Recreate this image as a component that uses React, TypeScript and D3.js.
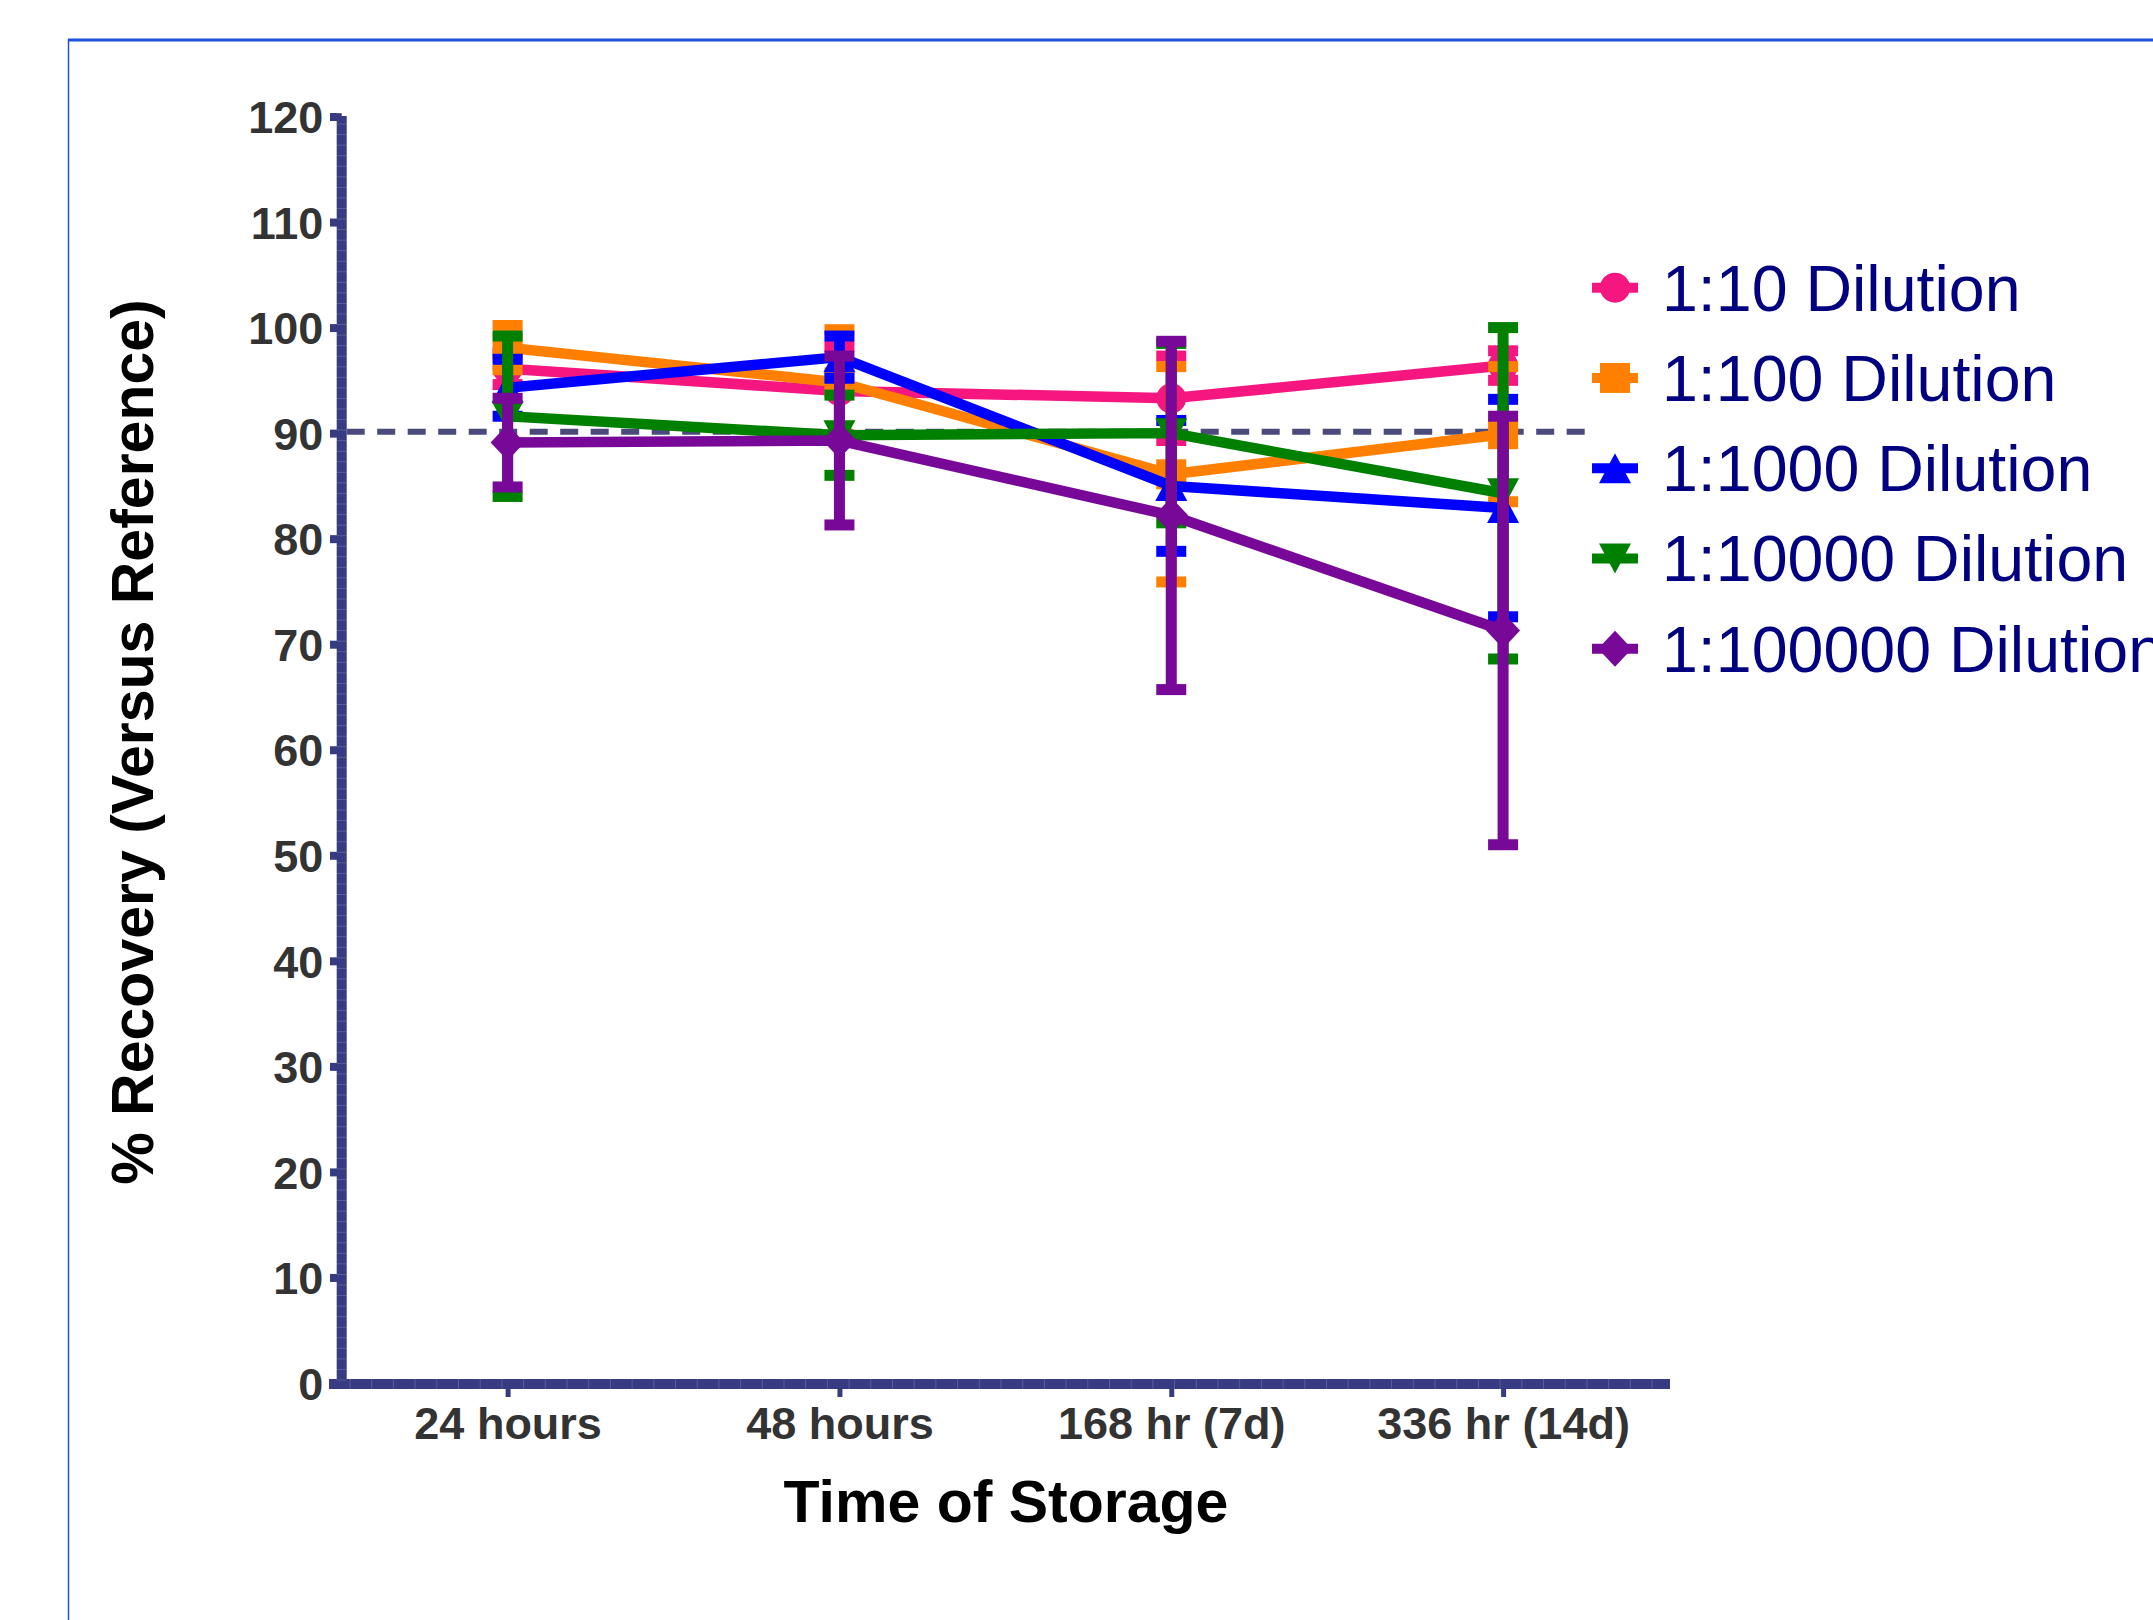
import { useEffect, useRef } from "react"
import * as d3 from "d3"

// categories on the x axis
const categories = ["24 hours", "48 hours", "168 hr (7d)", "336 hr (14d)"]

// series (mean and SD per time point)
const seriesNames = ["1:10 Dilution", "1:100 Dilution", "1:1000 Dilution", "1:10000 Dilution", "1:100000 Dilution"]
const seriesColors = ["#f5177f", "#ff8000", "#0000ff", "#008000", "#780898"]
const seriesSymbols = ["circle", "square", "triangleUp", "triangleDown", "diamond"]

const dil10Mean = [96.1, 94.0, 93.3, 96.4]
const dil10Sd = [1.5, 4.2, 4.0, 1.4]
const dil100Mean = [98.1, 94.8, 86.1, 89.9]
const dil100Sd = [2.1, 5.0, 10.2, 6.4]
const dil1000Mean = [94.3, 97.2, 85.0, 82.9]
const dil1000Sd = [2.7, 2.0, 6.2, 10.3]
const dil10000Mean = [91.6, 89.8, 90.0, 84.3]
const dil10000Sd = [7.6, 3.8, 8.5, 15.7]
const dil100000Mean = [89.1, 89.3, 82.2, 71.3]
const dil100000Sd = [4.2, 8.0, 16.5, 20.3]

const yTickValues = [0, 10, 20, 30, 40, 50, 60, 70, 80, 90, 100, 110, 120]
const referenceLevel = 90
const xTitle = "Time of Storage"
const yTitle = "% Recovery (Versus Reference)"

const W = 2153
const H = 1620
const AXIS = "#363b82"
const FONT = "'Liberation Sans', Arial, Helvetica, sans-serif"

const symbolPath = (kind: string) => {
    switch (kind) {
        case "circle":
            return "M-15,0A15,15 0 1,0 15,0A15,15 0 1,0 -15,0Z"
        case "square":
            return "M-15,-15H15V15H-15Z"
        case "triangleUp":
            return "M0,-15L16,15H-16Z"
        case "triangleDown":
            return "M0,15L16,-15H-16Z"
        default:
            return "M0,-18L17,0L0,18L-17,0Z"
    }
}

const App = () => {
    const ref = useRef<SVGSVGElement>(null)

    useEffect(() => {
        const svg = d3.select(ref.current)
        svg.selectAll("*").remove()

        const means = [dil10Mean, dil100Mean, dil1000Mean, dil10000Mean, dil100000Mean]
        const sds = [dil10Sd, dil100Sd, dil1000Sd, dil10000Sd, dil100000Sd]

        const xScale = d3.scalePoint<string>().domain(categories).range([341.7, 1669]).padding(0.5)
        const yScale = d3.scaleLinear().domain([0, 120]).range([1383, 116.5])

        // outer frame (blue border of the exported figure)
        svg.append("line").attr("x1", 68).attr("x2", W).attr("y1", 40).attr("y2", 40)
            .attr("stroke", "#1f52dc").attr("stroke-width", 3)
        svg.append("line").attr("x1", 68.5).attr("x2", 68.5).attr("y1", 39).attr("y2", H)
            .attr("stroke", "#1f52dc").attr("stroke-width", 1.5)

        // dashed reference line
        svg.append("line")
            .attr("x1", 346.7).attr("x2", 1597)
            .attr("y1", yScale(referenceLevel) - 1.5).attr("y2", yScale(referenceLevel) - 1.5)
            .attr("stroke", "#4b4a7c").attr("stroke-width", 6)
            .attr("stroke-dasharray", "18,12.5")

        // series
        const capW = 15
        means.forEach((m, si) => {
            const g = svg.append("g")
            const color = seriesColors[si]
            const pts = categories.map((c, i) => ({ c, v: m[i], sd: sds[si][i] }))

            g.selectAll(".err")
                .data(pts)
                .join("line")
                .attr("x1", d => xScale(d.c)).attr("x2", d => xScale(d.c))
                .attr("y1", d => yScale(d.v + d.sd)).attr("y2", d => yScale(d.v - d.sd))
                .attr("stroke", color).attr("stroke-width", 11)

            g.selectAll(".capTop")
                .data(pts)
                .join("line")
                .attr("x1", d => xScale(d.c) - capW).attr("x2", d => xScale(d.c) + capW)
                .attr("y1", d => yScale(d.v + d.sd)).attr("y2", d => yScale(d.v + d.sd))
                .attr("stroke", color).attr("stroke-width", 11)

            g.selectAll(".capBot")
                .data(pts)
                .join("line")
                .attr("x1", d => xScale(d.c) - capW).attr("x2", d => xScale(d.c) + capW)
                .attr("y1", d => yScale(d.v - d.sd)).attr("y2", d => yScale(d.v - d.sd))
                .attr("stroke", color).attr("stroke-width", 11)

            const line = d3.line<{ c: string, v: number }>()
                .x(d => xScale(d.c) as number)
                .y(d => yScale(d.v))

            g.append("path")
                .datum(pts)
                .attr("d", line)
                .attr("fill", "none")
                .attr("stroke", color)
                .attr("stroke-width", 10.5)
                .attr("stroke-linejoin", "round")

            g.selectAll(".mark")
                .data(pts)
                .join("path")
                .attr("transform", d => `translate(${xScale(d.c)},${yScale(d.v)})`)
                .attr("d", symbolPath(seriesSymbols[si]))
                .attr("fill", color)
        })

        // y axis
        const yAxisG = svg.append("g")
            .attr("transform", "translate(341.7,0)")
            .call(d3.axisLeft(yScale).tickValues(yTickValues).tickSize(11.7).tickSizeOuter(0).tickPadding(6.7))
        yAxisG.select(".domain").remove()
        yAxisG.selectAll(".tick line").attr("stroke", AXIS).attr("stroke-width", 8)
        yAxisG.selectAll(".tick text")
            .attr("fill", "#333")
            .attr("font-family", FONT)
            .attr("font-weight", "bold")
            .attr("font-size", 45)
            .attr("dy", "0.36em")

        // x axis
        const xAxisG = svg.append("g")
            .attr("transform", "translate(0,1384)")
            .call(d3.axisBottom(xScale).tickSize(13).tickSizeOuter(0))
        xAxisG.select(".domain").remove()
        xAxisG.selectAll(".tick line").attr("stroke", AXIS).attr("stroke-width", 5)
        xAxisG.selectAll(".tick text")
            .attr("fill", "#333")
            .attr("font-family", FONT)
            .attr("font-weight", "bold")
            .attr("font-size", 45)
            .attr("y", 55)
            .attr("dy", 0)

        // thick axis lines
        svg.append("line").attr("x1", 341.7).attr("x2", 341.7).attr("y1", 116).attr("y2", 1389)
            .attr("stroke", AXIS).attr("stroke-width", 10)
        svg.append("line").attr("x1", 329).attr("x2", 1670).attr("y1", 1384).attr("y2", 1384)
            .attr("stroke", AXIS).attr("stroke-width", 10)

        // faint segment lines inside the thick axes
        svg.append("g").selectAll("line")
            .data(d3.range(0, 121, 1))
            .join("line")
            .attr("x1", 336.7).attr("x2", 346.7)
            .attr("y1", d => yScale(d) - 3).attr("y2", d => yScale(d) - 3)
            .attr("stroke", "#fff").attr("stroke-opacity", 0.18).attr("stroke-width", 1)
        svg.append("g").selectAll("line")
            .data(d3.range(350, 1670, 21.7))
            .join("line")
            .attr("x1", d => d).attr("x2", d => d)
            .attr("y1", 1379).attr("y2", 1389)
            .attr("stroke", "#fff").attr("stroke-opacity", 0.18).attr("stroke-width", 1)

        // axis titles
        svg.append("text")
            .attr("x", 1006).attr("y", 1521.7)
            .attr("text-anchor", "middle")
            .attr("font-family", FONT).attr("font-weight", "bold").attr("font-size", 59)
            .attr("fill", "#000")
            .text(xTitle)

        svg.append("text")
            .attr("transform", "translate(153,742) rotate(-90)")
            .attr("text-anchor", "middle")
            .attr("font-family", FONT).attr("font-weight", "bold").attr("font-size", 59)
            .attr("fill", "#000")
            .text(yTitle)

        // legend
        const legend = svg.append("g")
        seriesNames.forEach((name, i) => {
            const base = 310.7 + i * 90.25
            const row = legend.append("g")
            row.append("line")
                .attr("x1", 1592).attr("x2", 1638)
                .attr("y1", base - 23).attr("y2", base - 23)
                .attr("stroke", seriesColors[i]).attr("stroke-width", 10)
            row.append("path")
                .attr("transform", `translate(1615,${base - 23})`)
                .attr("d", symbolPath(seriesSymbols[i]))
                .attr("fill", seriesColors[i])
            row.append("text")
                .attr("x", 1662).attr("y", base)
                .attr("font-family", FONT).attr("font-size", 64.5)
                .attr("fill", "#000080")
                .text(name)
        })
    }, [])

    return (
        <svg ref={ref} width={W} height={H}
            style={{ position: "absolute", left: 0, top: 0, background: "#fff" }} />
    )
}

export default App
